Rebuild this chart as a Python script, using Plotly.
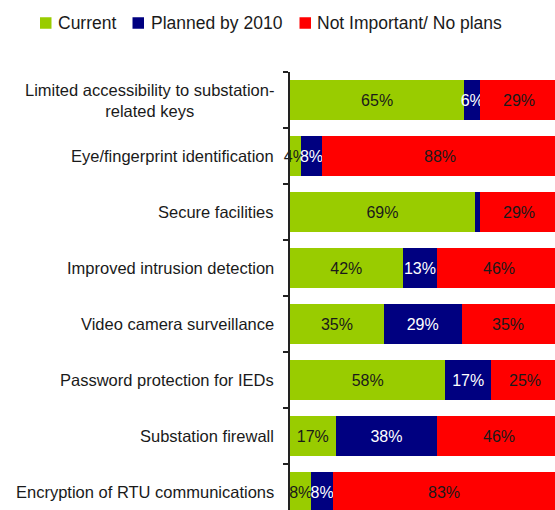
import plotly.graph_objects as go

# Survey results: substation security measures (% of respondents)
categories = [
    "Limited accessibility to substation-<br>related keys",
    "Eye/fingerprint identification",
    "Secure facilities",
    "Improved intrusion detection",
    "Video camera surveillance",
    "Password protection for IEDs",
    "Substation firewall",
    "Encryption of RTU communications",
]
series_names = ["Current", "Planned by 2010", "Not Important/ No plans"]
current = [65, 4, 69, 42, 35, 58, 17, 8]
planned = [6, 8, 2, 13, 29, 17, 38, 8]
no_plans = [29, 88, 29, 46, 35, 25, 46, 83]

colors = ["#99CC00", "#000080", "#FF0000"]
label_colors = ["#1a1a1a", "#ffffff", "#1a1a1a"]
FONT = "Liberation Sans, Arial, sans-serif"

W, H = 555, 510
L, T = 290, 72


def px(x_pix):
    return (x_pix - L) / (W - L)


def py(y_pix):
    return (H - y_pix) / (H - T)


def pct_labels(values):
    # very thin slivers are left unlabelled
    return [f"{v}%" if v >= 3 else "" for v in values]


fig = go.Figure()
all_series = [current, planned, no_plans]
for idx, (name, vals, col, lcol) in enumerate(zip(series_names, all_series, colors, label_colors)):
    # the last segment runs past the right edge of the page, so its label
    # is drawn separately below (bar text beyond the axis range gets hidden)
    is_last = idx == len(all_series) - 1
    fig.add_trace(go.Bar(
        y=categories,
        x=vals,
        name=name,
        orientation="h",
        marker=dict(color=col, line=dict(width=0)),
        text=None if is_last else pct_labels(vals),
        textposition="inside",
        insidetextanchor="middle",
        textangle=0,
        textfont=dict(family=FONT, size=16, color=lcol),
        cliponaxis=False,
        showlegend=False,
        hoverinfo="skip",
    ))

# labels for the last segment, centred on each segment
last_base = [a + b for a, b in zip(current, planned)]
for cat, base, val, lab in zip(categories, last_base, no_plans, pct_labels(no_plans)):
    fig.add_annotation(
        x=base + val / 2, xref="x", y=cat, yref="y",
        text=lab, showarrow=False,
        xanchor="center", yanchor="middle",
        font=dict(family=FONT, size=16, color=label_colors[2]),
    )

# scale: 100% spans 268 px starting at the axis
x_max = (W - L) / 268 * 100
# rows are 56 px tall; the plot runs past the bottom edge of the page
y_bottom = -0.5 + (H - T) / 56

fig.update_layout(
    width=W, height=H,
    margin=dict(l=L, r=0, t=T, b=0, pad=0),
    barmode="stack",
    bargap=0.29,
    plot_bgcolor="white",
    paper_bgcolor="white",
    uniformtext=dict(minsize=16, mode="show"),
    xaxis=dict(range=[0, x_max], visible=False, fixedrange=True),
    yaxis=dict(
        type="category",
        categoryorder="array",
        categoryarray=categories,
        range=[y_bottom, -0.5],
        showticklabels=False,
        showgrid=False,
        zeroline=False,
        showline=True,
        linecolor="#222222",
        linewidth=1.5,
        ticks="outside",
        ticklen=5,
        tickcolor="#222222",
        tickwidth=1.5,
        tickson="boundaries",
    ),
    showlegend=False,
)

# category labels, right-aligned against the axis and centred line by line
for cat in categories:
    fig.add_annotation(
        x=0, xref="paper", y=cat, yref="y",
        text=cat, showarrow=False,
        xanchor="right", yanchor="middle", align="center",
        xshift=-14,
        font=dict(family=FONT, size=16.5, color="#1a1a1a"),
    )

# legend row across the top
legend_square_left = [40, 132.5, 299.5]
legend_text_left = [56, 149, 315]
sq = 11.5
legend_mid = 23
for name, col, sx, tx in zip(series_names, colors, legend_square_left, legend_text_left):
    fig.add_shape(
        type="rect", xref="paper", yref="paper",
        x0=px(sx), x1=px(sx + sq),
        y0=py(legend_mid + sq / 2), y1=py(legend_mid - sq / 2),
        fillcolor=col, line=dict(width=0),
    )
    fig.add_annotation(
        x=px(tx), xref="paper", y=py(legend_mid), yref="paper",
        text=name, showarrow=False,
        xanchor="left", yanchor="middle",
        font=dict(family=FONT, size=17.5, color="#1a1a1a"),
    )

fig.write_html("out.html")
